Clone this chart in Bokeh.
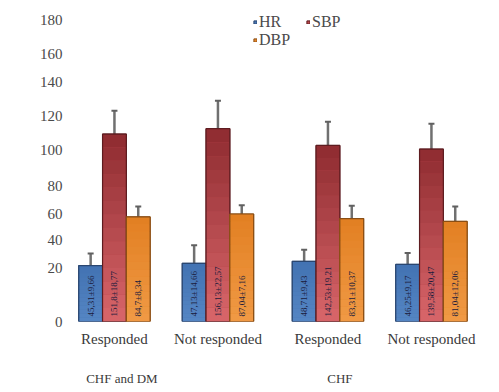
import numpy as np
from bokeh.plotting import figure
from bokeh.models import (ColumnDataSource, FixedTicker, Whisker, TeeHead, LinearAxis,
                          Range1d, Legend, LegendItem)
from bokeh.core.properties import value
from bokeh.embed import file_html
from bokeh.resources import INLINE

# ---- data ----
groups = ["CHF and DM", "CHF and DM", "CHF", "CHF"]
outcomes = ["Responded", "Not responded", "Responded", "Not responded"]
hr_mean = [45.31, 47.13, 48.71, 46.25]
hr_sd = [9.66, 14.66, 9.43, 9.17]
sbp_mean = [151.8, 156.13, 142.53, 139.58]
sbp_sd = [18.77, 22.57, 19.21, 20.47]
dbp_mean = [84.7, 87.04, 83.31, 81.04]
dbp_sd = [8.34, 7.16, 10.37, 12.06]
series_names = ["HR", "SBP", "DBP"]
y_tick_labels = ["0", "20", "40", "60", "80", "100", "120", "140", "160", "180"]
group_labels = ["CHF and DM", "CHF"]

# ---- layout (the printed labels sit at uneven places in the source figure) ----
y_tick_pos = [0.0, 43.7, 65.6, 87.4, 110.1, 138.5, 166.0, 194.3, 217.0, 244.5]
caption_pos = [0.072, 2.179]
GROUP_GAP = 0.063
BW = 0.23
SERIF = "Liberation Serif"
N_SLICES = 14

grp_index = [sorted(set(groups), key=groups.index).index(g) for g in groups]
xc = [i + GROUP_GAP * gi for i, gi in enumerate(grp_index)]


def lab(m, s):
    return [f"{a}±{b}".replace(".", ",") for a, b in zip(m, s)]


def mix(c1, c2, t):
    a = [int(c1[i:i + 2], 16) for i in (1, 3, 5)]
    b = [int(c2[i:i + 2], 16) for i in (1, 3, 5)]
    return "#" + "".join(f"{round(x + (y - x) * t):02x}" for x, y in zip(a, b))


data = dict(x=xc, hr=hr_mean, sbp=sbp_mean, dbp=dbp_mean,
            hr_lab=lab(hr_mean, hr_sd), sbp_lab=lab(sbp_mean, sbp_sd), dbp_lab=lab(dbp_mean, dbp_sd))
for key, m, s in (("hr", hr_mean, hr_sd), ("sbp", sbp_mean, sbp_sd), ("dbp", dbp_mean, dbp_sd)):
    data[f"{key}_up"] = [a + b for a, b in zip(m, s)]
    data[f"{key}_lo"] = [a - b for a, b in zip(m, s)]
    for k in range(N_SLICES):
        data[f"{key}_b{k}"] = [a * k / N_SLICES for a in m]
        data[f"{key}_t{k}"] = [a * (k + 1) / N_SLICES for a in m]
for key, off in (("hr", -BW), ("sbp", 0.0), ("dbp", BW)):
    data[f"{key}_x"] = [v + off for v in xc]
src = ColumnDataSource(data)

p = figure(x_range=Range1d(-0.502, 3.566), y_range=Range1d(0, 250.2),
           width=497, height=392, output_backend="svg", toolbar_location=None,
           min_border_left=62, min_border_right=14, min_border_top=12, min_border_bottom=71)
p.outline_line_color = None
p.xgrid.visible = False
p.ygrid.visible = False

# key, mid colour, top colour, bottom colour, outline colour
specs = [
    ("hr", "#4a78b5", "#4272b2", "#5586c4", "#2a4670"),
    ("sbp", "#b9474b", "#8e2b30", "#d9666a", "#5e1c20"),
    ("dbp", "#e8892c", "#e27f22", "#f09a45", "#8a4e14"),
]
renderers = []
for key, fc, ctop, cbot, lc in specs:
    r = p.vbar(x=f"{key}_x", top=key, width=BW, source=src, fill_color=fc, line_color=lc, line_width=1)
    renderers.append(r)
    for k in range(N_SLICES):
        t = (k + 0.5) / N_SLICES
        p.vbar(x=f"{key}_x", bottom=f"{key}_b{k}", top=f"{key}_t{k}", width=BW, source=src,
               fill_color=mix(cbot, ctop, t), line_color=None)
    p.vbar(x=f"{key}_x", top=key, width=BW, source=src, fill_color=None, line_color=lc, line_width=1.2)
    p.add_layout(Whisker(base=f"{key}_x", upper=f"{key}_up", lower=f"{key}_lo", source=src,
                         line_color="#707070", line_width=2.5,
                         upper_head=TeeHead(size=6, line_color="#606060", line_width=2),
                         lower_head=None))
    p.text(x=f"{key}_x", y=0, text=f"{key}_lab", source=src, angle=np.pi / 2,
           text_align="left", text_baseline="middle", y_offset=-5,
           text_font=value(SERIF), text_font_size="9px", text_color="#1c1c3c")

# y axis
ya = p.yaxis[0]
ya.ticker = FixedTicker(ticks=y_tick_pos)
ya.major_label_overrides = dict(zip(y_tick_pos, y_tick_labels))
ya.axis_line_color = None
ya.major_tick_line_color = None
ya.minor_tick_line_color = None
ya.major_tick_out = 0
ya.major_label_standoff = 0
ya.major_label_text_font = SERIF
ya.major_label_text_font_size = "15px"
ya.major_label_text_color = "#4a4a4a"

# x axis: outcomes
xa = p.xaxis[0]
xa.ticker = FixedTicker(ticks=xc)
xa.major_label_overrides = dict(zip(xc, outcomes))
xa.axis_line_color = None
xa.major_tick_line_color = None
xa.minor_tick_line_color = None
xa.major_tick_out = 0
xa.major_label_standoff = 9
xa.major_label_text_font = SERIF
xa.major_label_text_font_size = "15px"
xa.major_label_text_color = "#3a3a3a"

# second x axis: group captions
ga = LinearAxis(ticker=FixedTicker(ticks=caption_pos),
                major_label_overrides=dict(zip(caption_pos, group_labels)))
ga.axis_line_color = None
ga.major_tick_line_color = None
ga.minor_tick_line_color = None
ga.major_tick_out = 0
ga.major_label_standoff = 21
ga.major_label_text_font = SERIF
ga.major_label_text_font_size = "13px"
ga.major_label_text_color = "#3a3a3a"
p.add_layout(ga, "below")

legend = Legend(items=[LegendItem(label=n, renderers=[r]) for n, r in zip(series_names, renderers)],
                orientation="horizontal", ncols=2, location=(191, 272),
                border_line_color=None, background_fill_alpha=0, padding=0, margin=0,
                spacing=0, glyph_width=4, glyph_height=4, label_standoff=2, label_height=18,
                label_width=47,
                label_text_font=SERIF, label_text_font_size="16px", label_text_color="#4a4a4a")
p.add_layout(legend, "center")

open("out.html", "w").write(file_html(p, INLINE))
